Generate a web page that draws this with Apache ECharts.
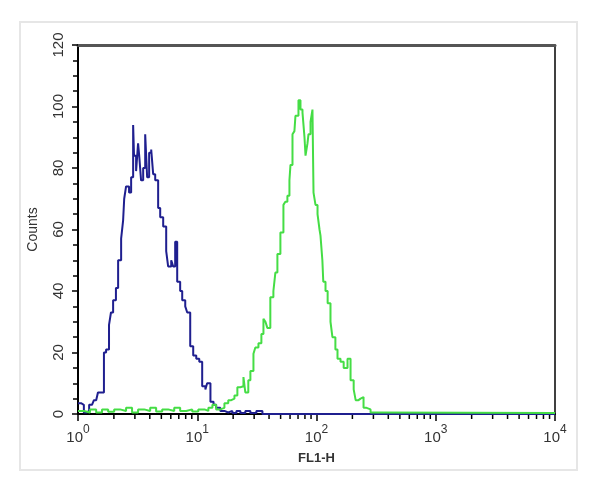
<!DOCTYPE html>
<html>
<head>
<meta charset="utf-8">
<script src="https://cdn.jsdelivr.net/npm/echarts@6/dist/echarts.min.js"></script>
<style>html,body{margin:0;padding:0;background:#fff;}#c{width:600px;height:492px;}</style>
</head>
<body>
<div id="c"></div>
<script>
// FL1-H channel values (log scale) and counts
const blueX = [1.00,1.06,1.12,1.19,1.24,1.31,1.36,1.42,1.47,1.56,1.65,1.72,1.82,1.89,1.97,2.08,2.17,2.30,2.39,2.44,2.53,2.68,2.79,2.90,2.95,3.07,3.19,3.26,3.38,3.52,3.66,3.80,3.95,4.11,4.27,4.44,4.70,4.89,5.18,5.49,5.70,6.05,6.28,6.53,6.79,7.19,7.48,7.93,8.24,8.73,9.25,9.81,10.4,11.0,11.7,12.1,12.9,13.7,14.4,15.6,16.9,18.2,19.7,21.3,23.0,25.3,27.9,31.3,35.2,10000];
const blueY = [3.5,3,0.5,1,3,3.5,4.5,5,7,7,20,21,29,33,37,41,50,57,63,70,74,72,77,94,84,79,88,84,76,80,91,77,85,86,78,76,67,64,61,53,48,50,48,56,43,40,37,35,33,22,19,18,17,9,8,10,4,3,2,1,0.5,1,0.3,1,0.3,1,0.3,1,0,0];
const greenX = [1.00,1.12,1.26,1.42,1.59,1.79,2.01,2.25,2.53,2.84,3.19,3.59,4.03,4.52,5.08,5.70,6.41,7.19,8.08,9.08,10.2,11.5,12.4,13.4,14.4,15.6,16.9,18.2,19.3,20.5,21.7,23.0,24.4,25.3,26.8,27.9,29.6,30.7,32.6,34.5,35.9,37.3,38.7,41.0,43.5,45.2,47.0,49.8,52.8,54.8,57.0,59.3,60.5,62.9,65.3,66.6,69.2,70.6,73.4,76.3,79.3,80.9,84.0,85.7,89.1,92.5,94.4,98.1,102,106,108,112,114,119,124,131,136,144,150,159,169,182,193,205,213,225,234,248,263,284,313,10000];
const greenY = [1,0.5,1.5,0.5,1.5,0.7,1.5,1,2,0.5,1.5,1,2,0.8,1.5,1,2,1,1.5,0.8,1.5,1,2,3,1.5,2,3.5,4.5,5,6,8.7,9,12,7,11,14,19.6,21.6,23,26,31,30,28,38,40,46,52,59,68,69,71,76,81,91,92,97,97,102,99,98,90,84,88,91,95,99,72,68,65,60,58,50,43,40,36,30,25,21,18,17,15,18,11,8,4.5,5,5.5,2,1.5,0.5,0.3,0.3];
const yTicks = [0,20,40,60,80,100,120];
const xMinorTicks = [2,3,4,5,6,7,8,9,20,30,40,50,60,70,80,90,200,300,400,500,600,700,800,900,2000,3000,4000,5000,6000,7000,8000,9000];

const zip = (xs, ys) => xs.map((x, i) => [x, ys[i]]);

const chart = echarts.init(document.getElementById('c'), null, {renderer: 'canvas'});
const font = '"Liberation Sans", Arial, sans-serif';
chart.setOption({
  backgroundColor: '#fff',
  animation: false,
  graphic: [{
    type: 'rect', shape: {x: 20, y: 22, width: 557, height: 448},
    style: {fill: 'none', stroke: '#e6e6e6', lineWidth: 2}, z: -1
  }],
  grid: {left: 78, right: 45, top: 45, bottom: 78},
  xAxis: [{
    type: 'log', logBase: 10, min: 1, max: 10000,
    name: 'FL1-H', nameLocation: 'middle', nameGap: 38,
    nameTextStyle: {fontFamily: font, fontSize: 13, fontWeight: 'bold', color: '#333'},
    axisLine: {lineStyle: {color: '#000', width: 2}},
    axisTick: {show: true, length: 7, lineStyle: {color: '#000', width: 1.5}},
    splitLine: {show: false},
    axisLabel: {
      margin: 10,
      formatter: v => '{b|10}{s|' + Math.round(Math.log10(v)) + '}',
      rich: {
        b: {fontFamily: font, fontSize: 15, color: '#333', verticalAlign: 'bottom', padding: [6,0,0,0]},
        s: {fontFamily: font, fontSize: 12, color: '#333', verticalAlign: 'top', padding: [0,0,8,0]}
      }
    }
  }, {
    type: 'value', position: 'top', min: 0, max: 1,
    axisLine: {show: true, onZero: false, lineStyle: {color: '#555', width: 3}},
    axisTick: {show: false}, axisLabel: {show: false}, splitLine: {show: false}
  }],
  yAxis: [{
    type: 'value', min: 0, max: 120, interval: 20,
    name: 'Counts', nameLocation: 'middle', nameGap: 38, nameRotate: 90,
    nameTextStyle: {fontFamily: font, fontSize: 14, color: '#333'},
    axisLine: {show: true, lineStyle: {color: '#000', width: 2}},
    axisTick: {show: true, length: 6, lineStyle: {color: '#000', width: 1.5}},
    minorTick: {show: true, splitNumber: 4, length: 5, lineStyle: {color: '#000', width: 1.5}},
    splitLine: {show: false},
    axisLabel: {rotate: 90, margin: 12, fontFamily: font, fontSize: 15, color: '#333',
      formatter: v => yTicks.includes(v) ? String(v) : ''}
  }, {
    type: 'value', position: 'right', min: 0, max: 1,
    axisLine: {show: true, onZero: false, lineStyle: {color: '#000', width: 1.5}},
    axisTick: {show: false}, axisLabel: {show: false}, splitLine: {show: false}
  }],
  series: [{
    type: 'custom', xAxisIndex: 0, yAxisIndex: 0, clip: false, silent: true,
    data: xMinorTicks.map(v => [v, 0]),
    renderItem: (params, api) => {
      const p = api.coord([api.value(0), 0]);
      return {type: 'line', shape: {x1: p[0], y1: p[1], x2: p[0], y2: p[1] + 5},
        style: {stroke: '#000', lineWidth: 1.5}};
    }
  }, {
    type: 'line', xAxisIndex: 0, yAxisIndex: 0, step: 'end', symbol: 'none',
    data: zip(blueX, blueY),
    lineStyle: {color: '#1f1f8f', width: 2}, z: 3
  }, {
    type: 'line', xAxisIndex: 0, yAxisIndex: 0, step: 'end', symbol: 'none',
    data: zip(greenX, greenY),
    lineStyle: {color: '#45dd45', width: 2}, z: 4
  }]
});
</script>
</body>
</html>
